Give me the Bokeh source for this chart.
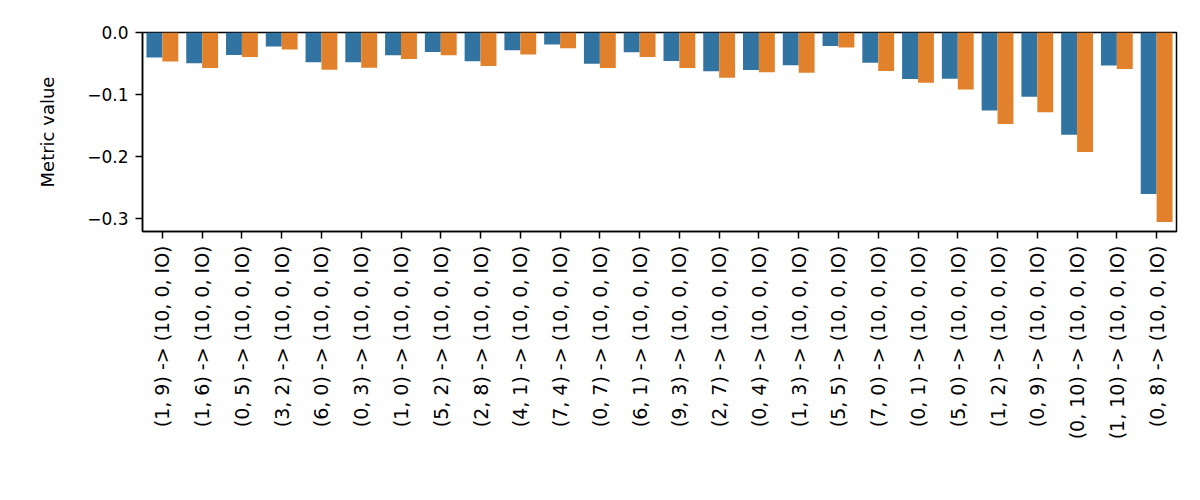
import math
from bokeh.plotting import figure
from bokeh.models import ColumnDataSource, FactorRange, Range1d, FixedTicker, CustomJSTickFormatter
from bokeh.transform import dodge
from bokeh.embed import file_html
from bokeh.resources import INLINE

categories = [
    "(1, 9) -> (10, 0, IO)", "(1, 6) -> (10, 0, IO)", "(0, 5) -> (10, 0, IO)",
    "(3, 2) -> (10, 0, IO)", "(6, 0) -> (10, 0, IO)", "(0, 3) -> (10, 0, IO)",
    "(1, 0) -> (10, 0, IO)", "(5, 2) -> (10, 0, IO)", "(2, 8) -> (10, 0, IO)",
    "(4, 1) -> (10, 0, IO)", "(7, 4) -> (10, 0, IO)", "(0, 7) -> (10, 0, IO)",
    "(6, 1) -> (10, 0, IO)", "(9, 3) -> (10, 0, IO)", "(2, 7) -> (10, 0, IO)",
    "(0, 4) -> (10, 0, IO)", "(1, 3) -> (10, 0, IO)", "(5, 5) -> (10, 0, IO)",
    "(7, 0) -> (10, 0, IO)", "(0, 1) -> (10, 0, IO)", "(5, 0) -> (10, 0, IO)",
    "(1, 2) -> (10, 0, IO)", "(0, 9) -> (10, 0, IO)", "(0, 10) -> (10, 0, IO)",
    "(1, 10) -> (10, 0, IO)", "(0, 8) -> (10, 0, IO)",
]
series_blue = [-0.0405, -0.0498, -0.0363, -0.0227, -0.048, -0.048, -0.0368, -0.0314,
               -0.0465, -0.0287, -0.0195, -0.0503, -0.032, -0.046, -0.0627, -0.0606,
               -0.053, -0.0217, -0.049, -0.075, -0.0746, -0.126, -0.104, -0.165,
               -0.0535, -0.261]
series_orange = [-0.047, -0.0573, -0.0395, -0.0276, -0.060, -0.0568, -0.0427, -0.0368,
                 -0.054, -0.0357, -0.0254, -0.0573, -0.0395, -0.0573, -0.073, -0.0643,
                 -0.0649, -0.0243, -0.062, -0.081, -0.092, -0.148, -0.129, -0.193,
                 -0.059, -0.306]
y_ticks = [0.0, -0.1, -0.2, -0.3]
y_label = "Metric value"

FONT = "DejaVu Sans"

src = ColumnDataSource(dict(cat=categories, blue=series_blue, orange=series_orange))

p = figure(
    width=1190, height=495,
    x_range=FactorRange(*categories),
    y_range=Range1d(-0.3215, 0.0),
    output_backend="svg", toolbar_location=None,
    min_border_left=142, min_border_right=14,
    min_border_top=32, min_border_bottom=264,
)

p.vbar(x=dodge("cat", -0.2, range=p.x_range), top=0, bottom="blue", width=0.4,
       source=src, fill_color="#3274a1", line_color=None)
p.vbar(x=dodge("cat", 0.2, range=p.x_range), top=0, bottom="orange", width=0.4,
       source=src, fill_color="#e1812c", line_color=None)

p.xgrid.visible = False
p.ygrid.visible = False
p.outline_line_color = "black"
p.outline_line_width = 1.5
p.outline_line_alpha = 1.0
p.background_fill_color = "white"
p.border_fill_color = "white"

p.yaxis.ticker = FixedTicker(ticks=y_ticks)
p.yaxis.formatter = CustomJSTickFormatter(code="return tick.toFixed(1).replace('-', '\u2212');")
p.yaxis.axis_label = y_label
p.yaxis.axis_label_text_font = FONT
p.yaxis.axis_label_text_font_size = "18px"
p.yaxis.axis_label_text_font_style = "normal"
p.yaxis.axis_label_text_color = "black"
p.yaxis.axis_label_standoff = 26

for ax in (p.xaxis[0], p.yaxis[0]):
    ax.axis_line_color = "black"
    ax.axis_line_width = 1.5
    ax.major_tick_line_color = "black"
    ax.major_tick_line_width = 1.5
    ax.major_tick_out = 7
    ax.major_tick_in = 0
    ax.minor_tick_line_color = None
    ax.major_label_text_font = FONT
    ax.major_label_text_font_size = "17px"
    ax.major_label_text_color = "black"
    ax.major_label_standoff = 7

p.xaxis.major_label_orientation = math.pi / 2
p.xaxis.major_label_text_font_size = "19px"

open("out.html", "w").write(file_html(p, INLINE))
